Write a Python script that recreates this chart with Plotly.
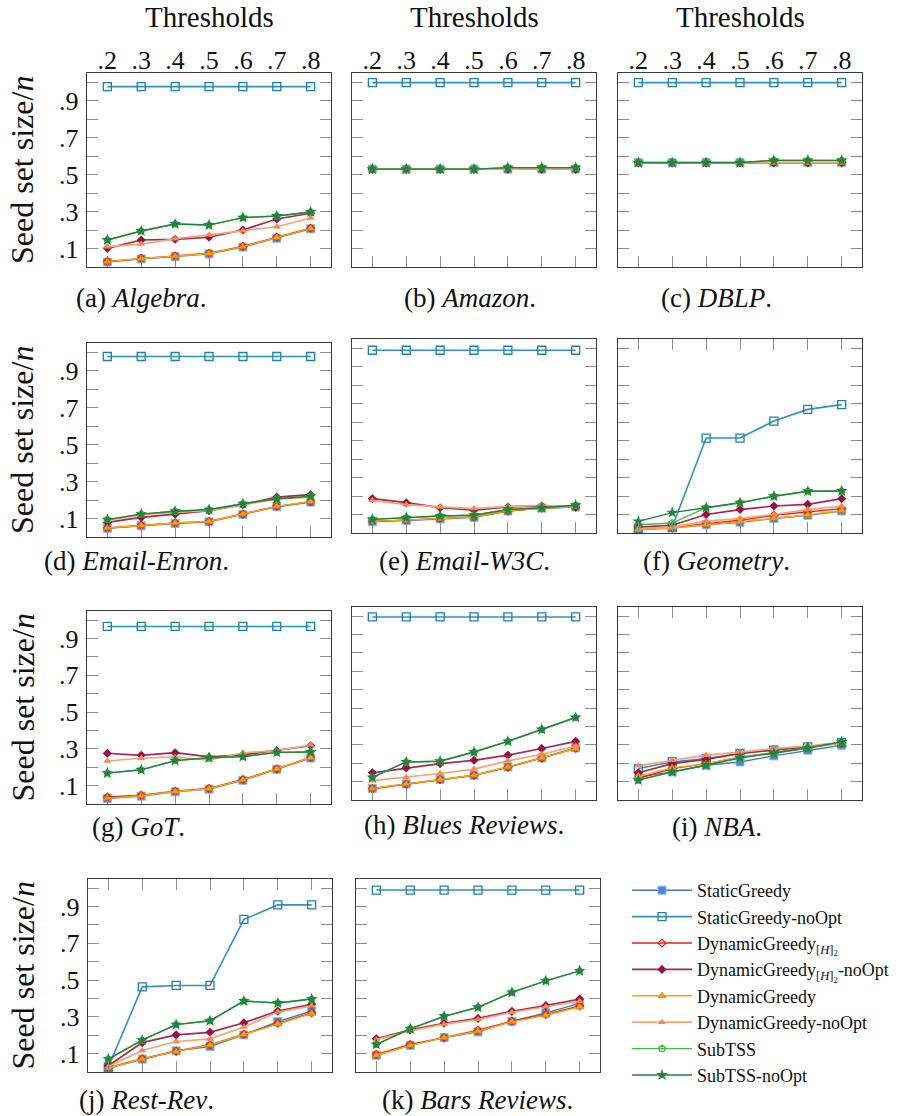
import plotly.graph_objects as go

W, H = 905, 1116
FONT = "'Liberation Serif', 'DejaVu Serif', 'Times New Roman', serif"

# Threshold values on the x axis and their labels
thresholds = [0.2, 0.3, 0.4, 0.5, 0.6, 0.7, 0.8]
threshold_labels = [".2", ".3", ".4", ".5", ".6", ".7", ".8"]

# Seed set size / n ticks (labelled and unlabelled)
size_ticks = [0.1, 0.3, 0.5, 0.7, 0.9]
size_labels = [".1", ".3", ".5", ".7", ".9"]
size_minor_ticks = [0.2, 0.4, 0.6, 0.8, 1.0]

# Algorithms (legend order)
series_names = [
    "StaticGreedy",
    "StaticGreedy-noOpt",
    "DynamicGreedy<sub>[<i>H</i>]<sub>2</sub></sub>",
    "DynamicGreedy<sub>[<i>H</i>]<sub>2</sub></sub>-noOpt",
    "DynamicGreedy",
    "DynamicGreedy-noOpt",
    "SubTSS",
    "SubTSS-noOpt",
]

# Seed set size / n per dataset; rows follow series_names
algebra = [
    [0.027, 0.044, 0.056, 0.071, 0.108, 0.156, 0.207],
    [0.976, 0.976, 0.976, 0.976, 0.976, 0.976, 0.976],
    [0.030, 0.047, 0.060, 0.075, 0.111, 0.162, 0.210],
    [0.101, 0.146, 0.150, 0.161, 0.200, 0.260, 0.291],
    [0.029, 0.046, 0.058, 0.073, 0.110, 0.160, 0.209],
    [0.110, 0.124, 0.153, 0.173, 0.196, 0.218, 0.265],
    [0.146, 0.195, 0.233, 0.227, 0.267, 0.276, 0.298],
    [0.146, 0.195, 0.233, 0.227, 0.267, 0.276, 0.298],
]
amazon = [
    [0.530, 0.530, 0.530, 0.530, 0.530, 0.530, 0.530],
    [0.998, 0.998, 0.998, 0.998, 0.998, 0.998, 0.998],
    [0.530, 0.530, 0.530, 0.530, 0.530, 0.530, 0.530],
    [0.530, 0.530, 0.530, 0.530, 0.530, 0.530, 0.530],
    [0.530, 0.530, 0.530, 0.530, 0.530, 0.530, 0.530],
    [0.530, 0.530, 0.530, 0.530, 0.530, 0.530, 0.530],
    [0.530, 0.530, 0.530, 0.530, 0.538, 0.538, 0.538],
    [0.530, 0.530, 0.530, 0.530, 0.538, 0.538, 0.538],
]
dblp = [
    [0.565, 0.565, 0.565, 0.565, 0.565, 0.565, 0.565],
    [0.998, 0.998, 0.998, 0.998, 0.998, 0.998, 0.998],
    [0.565, 0.565, 0.565, 0.565, 0.565, 0.565, 0.565],
    [0.565, 0.565, 0.565, 0.565, 0.565, 0.565, 0.565],
    [0.565, 0.565, 0.565, 0.565, 0.565, 0.565, 0.565],
    [0.565, 0.565, 0.565, 0.565, 0.565, 0.565, 0.565],
    [0.565, 0.565, 0.565, 0.565, 0.577, 0.577, 0.577],
    [0.565, 0.565, 0.565, 0.565, 0.577, 0.577, 0.577],
]
email_enron = [
    [0.047, 0.061, 0.074, 0.082, 0.122, 0.164, 0.189],
    [0.977, 0.977, 0.977, 0.977, 0.977, 0.977, 0.977],
    [0.049, 0.063, 0.076, 0.084, 0.124, 0.166, 0.191],
    [0.079, 0.106, 0.124, 0.142, 0.175, 0.216, 0.229],
    [0.049, 0.063, 0.076, 0.084, 0.124, 0.166, 0.192],
    [0.090, 0.120, 0.135, 0.143, 0.175, 0.205, 0.216],
    [0.094, 0.124, 0.139, 0.148, 0.180, 0.207, 0.220],
    [0.094, 0.124, 0.139, 0.148, 0.180, 0.207, 0.220],
]
email_w3c = [
    [0.061, 0.067, 0.076, 0.085, 0.119, 0.135, 0.141],
    [0.989, 0.989, 0.989, 0.989, 0.989, 0.989, 0.989],
    [0.063, 0.069, 0.078, 0.087, 0.119, 0.135, 0.141],
    [0.186, 0.164, 0.137, 0.123, 0.141, 0.146, 0.141],
    [0.063, 0.069, 0.078, 0.087, 0.120, 0.135, 0.142],
    [0.177, 0.154, 0.141, 0.132, 0.144, 0.150, 0.141],
    [0.074, 0.083, 0.092, 0.096, 0.127, 0.137, 0.150],
    [0.074, 0.083, 0.092, 0.096, 0.127, 0.137, 0.150],
]
geometry = [
    [0.018, 0.027, 0.045, 0.058, 0.078, 0.096, 0.119],
    [0.024, 0.032, 0.514, 0.514, 0.606, 0.669, 0.695],
    [0.020, 0.029, 0.051, 0.069, 0.096, 0.114, 0.132],
    [0.032, 0.042, 0.100, 0.127, 0.146, 0.155, 0.186],
    [0.018, 0.027, 0.045, 0.060, 0.080, 0.098, 0.122],
    [0.024, 0.032, 0.065, 0.078, 0.100, 0.127, 0.146],
    [0.045, 0.054, 0.137, 0.164, 0.199, 0.226, 0.227],
    [0.063, 0.110, 0.137, 0.164, 0.199, 0.226, 0.227],
]
got = [
    [0.030, 0.043, 0.066, 0.081, 0.129, 0.189, 0.250],
    [0.966, 0.966, 0.966, 0.966, 0.966, 0.966, 0.966],
    [0.038, 0.048, 0.070, 0.085, 0.133, 0.191, 0.254],
    [0.276, 0.265, 0.279, 0.256, 0.267, 0.290, 0.317],
    [0.032, 0.045, 0.068, 0.083, 0.131, 0.191, 0.252],
    [0.234, 0.249, 0.256, 0.238, 0.279, 0.290, 0.321],
    [0.168, 0.186, 0.236, 0.252, 0.258, 0.281, 0.283],
    [0.168, 0.186, 0.236, 0.252, 0.258, 0.281, 0.283],
]
blues_reviews = [
    [0.063, 0.087, 0.112, 0.135, 0.180, 0.229, 0.285],
    [0.996, 0.996, 0.996, 0.996, 0.996, 0.996, 0.996],
    [0.061, 0.086, 0.111, 0.134, 0.178, 0.227, 0.280],
    [0.148, 0.175, 0.198, 0.216, 0.244, 0.280, 0.319],
    [0.063, 0.087, 0.112, 0.135, 0.180, 0.229, 0.280],
    [0.105, 0.123, 0.144, 0.168, 0.213, 0.249, 0.294],
    [0.123, 0.207, 0.211, 0.261, 0.319, 0.384, 0.449],
    [0.123, 0.207, 0.211, 0.261, 0.319, 0.384, 0.449],
]
nba = [
    [0.126, 0.153, 0.189, 0.207, 0.240, 0.271, 0.298],
    [0.171, 0.207, 0.226, 0.253, 0.271, 0.289, 0.312],
    [0.117, 0.171, 0.198, 0.232, 0.258, 0.283, 0.312],
    [0.148, 0.198, 0.221, 0.253, 0.274, 0.289, 0.312],
    [0.130, 0.175, 0.198, 0.234, 0.258, 0.283, 0.310],
    [0.186, 0.216, 0.244, 0.261, 0.280, 0.294, 0.312],
    [0.108, 0.153, 0.189, 0.229, 0.256, 0.283, 0.316],
    [0.108, 0.153, 0.189, 0.229, 0.256, 0.283, 0.316],
]
rest_rev = [
    [0.022, 0.070, 0.115, 0.139, 0.202, 0.274, 0.332],
    [0.027, 0.463, 0.471, 0.471, 0.830, 0.909, 0.909],
    [0.024, 0.072, 0.113, 0.148, 0.206, 0.265, 0.322],
    [0.034, 0.160, 0.202, 0.216, 0.268, 0.332, 0.368],
    [0.022, 0.070, 0.112, 0.146, 0.204, 0.262, 0.318],
    [0.030, 0.117, 0.166, 0.180, 0.245, 0.326, 0.360],
    [0.070, 0.173, 0.258, 0.279, 0.386, 0.375, 0.397],
    [0.070, 0.173, 0.258, 0.279, 0.386, 0.375, 0.397],
]
bars_reviews = [
    [0.091, 0.145, 0.187, 0.218, 0.276, 0.322, 0.373],
    [0.990, 0.990, 0.990, 0.990, 0.990, 0.990, 0.990],
    [0.096, 0.150, 0.187, 0.227, 0.276, 0.313, 0.360],
    [0.181, 0.229, 0.265, 0.292, 0.330, 0.361, 0.397],
    [0.091, 0.145, 0.187, 0.222, 0.273, 0.309, 0.354],
    [0.176, 0.224, 0.260, 0.285, 0.325, 0.355, 0.385],
    [0.150, 0.235, 0.303, 0.352, 0.433, 0.496, 0.550],
    [0.150, 0.235, 0.303, 0.352, 0.433, 0.496, 0.550],
]

captions = [
    "(a) <i>Algebra</i>.", "(b) <i>Amazon</i>.", "(c) <i>DBLP</i>.",
    "(d) <i>Email-Enron</i>.", "(e) <i>Email-W3C</i>.", "(f) <i>Geometry</i>.",
    "(g) <i>GoT</i>.", "(h) <i>Blues Reviews</i>.", "(i) <i>NBA</i>.",
    "(j) <i>Rest-Rev</i>.", "(k) <i>Bars Reviews</i>.",
]
tables = [algebra, amazon, dblp, email_enron, email_w3c, geometry,
          got, blues_reviews, nba, rest_rev, bars_reviews]

# ---- styling -------------------------------------------------------------
line_styles = [
    dict(color="#3a7bcc", width=1.4),
    dict(color="#2f92c0", width=1.6),
    dict(color="#ee1c1c", width=1.4),
    dict(color="#a8264f", width=1.7),
    dict(color="#ffa400", width=1.4),
    dict(color="#f8a274", width=1.7),
    dict(color="#3cc03c", width=1.4),
    dict(color="#23823e", width=1.4),
]
marker_styles = [
    dict(symbol="square", size=8, color="#4a88d4", line=dict(color="#86b6e6", width=1)),
    dict(symbol="square-open", size=8, color="#1c7fae", line=dict(width=1.3)),
    dict(symbol="diamond-open", size=6, color="#ee1c1c", line=dict(width=1.2)),
    dict(symbol="diamond", size=7, color="#9c1040"),
    dict(symbol="triangle-up", size=7, color="#ffa400", line=dict(color="#e07b00", width=0.8)),
    dict(symbol="triangle-up", size=7, color="#f5884e"),
    dict(symbol="pentagon-open", size=7, color="#3cc03c", line=dict(width=1.3)),
    dict(symbol="star", size=9, color="#23823e"),
]

# panel boxes in pixels: left, top, right, bottom
boxes = [
    (87, 73, 331, 267), (352, 73, 596, 267), (618, 73, 862, 267),
    (87, 343, 331, 537), (352, 339, 596, 533), (618, 339, 862, 533),
    (87, 611, 331, 804), (352, 607, 596, 800), (618, 607, 862, 800),
    (88, 879, 332, 1072), (356, 879, 600, 1072),
]
caption_pos = [
    (141, 298), (470, 298), (716, 298),
    (136, 561), (464, 561), (716, 561),
    (138, 827), (464, 825), (717, 827),
    (146, 1100), (477, 1100),
]
top_tick_panels = {5, 8, 9}

AXIS_LINE = "#3a3a3a"
TICK_COLOR = "#8c8c8c"
TEXT = "#111111"
TICK_STYLE = dict(ticks="inside", ticklen=11, tickwidth=1.3, tickcolor=TICK_COLOR)

fig = go.Figure()
layout = {}
annotations = []

for k, (table, box) in enumerate(zip(tables, boxes)):
    n = k + 1
    sfx = "" if n == 1 else str(n)
    xa, ya = "x" + sfx, "y" + sfx
    x0, y0, x1, y1 = box
    col = k % 3
    first_row = k < 3

    for s, vals in enumerate(table):
        fig.add_trace(go.Scatter(
            x=thresholds, y=vals, xaxis=xa, yaxis=ya,
            mode="lines+markers", name=series_names[s],
            showlegend=(k == 0),
            line=line_styles[s], marker=marker_styles[s],
            cliponaxis=False,
        ))

    # x ticks sit inside along the bottom edge; on the first row the
    # threshold labels are lifted above the top edge of the panel
    layout["xaxis" + sfx] = dict(
        domain=[x0 / W, x1 / W], anchor=ya, range=[0.14, 0.86],
        tickvals=thresholds, ticktext=threshold_labels,
        showticklabels=first_row,
        tickfont=dict(family=FONT, size=26, color=TEXT),
        ticklabelstandoff=-(y1 - y0) - 36 if first_row else 0,
        **TICK_STYLE,
        showline=True, linecolor=AXIS_LINE, linewidth=1.4,
        mirror="ticks" if k in top_tick_panels else True,
        showgrid=False, zeroline=False, fixedrange=True,
    )
    layout["yaxis" + sfx] = dict(
        domain=[1 - y1 / H, 1 - y0 / H], anchor=xa, range=[0, 1.05],
        tickvals=size_ticks, ticktext=size_labels, showticklabels=(col == 0),
        tickfont=dict(family=FONT, size=26, color=TEXT),
        **TICK_STYLE,
        minor=dict(tickvals=size_minor_ticks, **TICK_STYLE),
        ticklabelstandoff=2,
        showline=True, linecolor=AXIS_LINE, linewidth=1.4, mirror="ticks",
        showgrid=False, zeroline=False, fixedrange=True,
    )

    cx, cy = caption_pos[k]
    annotations.append(dict(
        text=captions[k], x=cx / W, y=1 - cy / H, xref="paper", yref="paper",
        showarrow=False, xanchor="center", yanchor="middle",
        font=dict(family=FONT, size=27, color=TEXT),
    ))

    if col == 0:
        annotations.append(dict(
            text="Seed set size/<i>n</i>", x=22 / W, y=1 - (y0 + y1) / 2 / H,
            xref="paper", yref="paper", showarrow=False, textangle=-90,
            xanchor="center", yanchor="middle",
            font=dict(family=FONT, size=32, color=TEXT),
        ))

    if first_row:
        annotations.append(dict(
            text="Thresholds", x=(x0 + x1) / 2 / W, y=1 - 17 / H,
            xref="paper", yref="paper", showarrow=False,
            xanchor="center", yanchor="middle",
            font=dict(family=FONT, size=29, color=TEXT),
        ))

fig.update_layout(
    width=W, height=H, margin=dict(l=0, r=0, t=0, b=0),
    paper_bgcolor="white", plot_bgcolor="white",
    annotations=annotations,
    showlegend=True,
    legend=dict(
        x=627 / W, y=1 - 872 / H, xanchor="left", yanchor="top",
        font=dict(family=FONT, size=18, color=TEXT),
        bgcolor="rgba(0,0,0,0)", borderwidth=0, itemwidth=60,
        tracegroupgap=0,
    ),
    **layout,
)

fig.write_html("out.html")
